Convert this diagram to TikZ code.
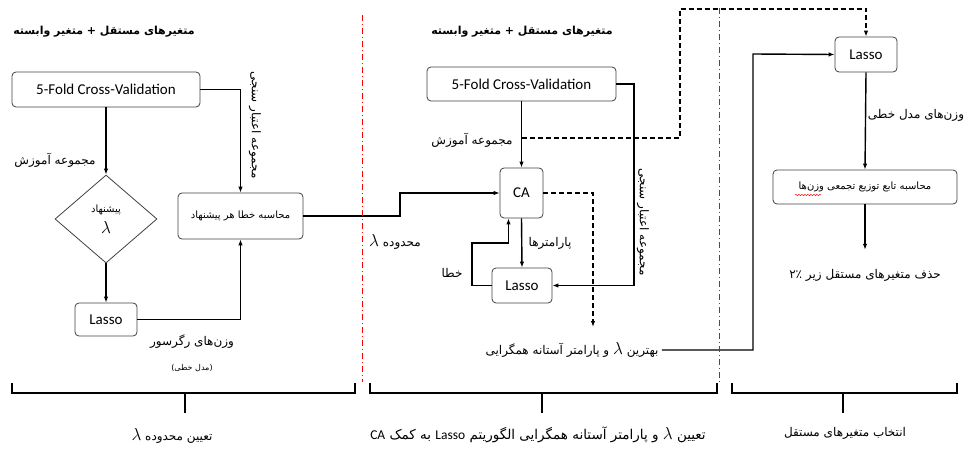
\documentclass[tikz,border=0pt]{standalone}
\usepackage{fontspec}
\setmainfont{Carlito}
\newfontfamily\fafont[Script=Arabic]{DejaVu Sans}
\TeXXeTstate=1
\usetikzlibrary{arrows.meta,shapes.geometric,decorations.pathmorphing}
\newcommand{\fa}[1]{{\fafont\beginR #1\endR}}
\newcommand{\lam}{{\fontsize{18}{18}\selectfont$\lambda$}}
\newcommand{\la}[1]{\beginL{\rmfamily #1}\endL}

\begin{document}
\begin{tikzpicture}[x=1pt, y=-1pt, >={Latex[length=6pt,width=4.5pt]},
                    every node/.style={font=\fontsize{15}{17}\selectfont},
                    box/.style={draw=black!75, rounded corners=4pt, line width=0.8pt},
                    farsi/.style={font=\fontsize{12}{14}\selectfont},
                    farsismall/.style={font=\fontsize{10}{12}\selectfont},
                    farsihead/.style={font=\bfseries\fontsize{11}{14}\selectfont},
                    flow/.style={line width=1.4pt},
                    dashline/.style={line width=1.2pt, dash pattern=on 5pt off 3pt},
                    brace/.style={line width=1.4pt},
                    sep/.style={red, line width=1pt, dash pattern=on 6pt off 3pt on 1pt off 3pt}]
\useasboundingbox (0,0) rectangle (974,449);

% Part 1: range of lambda
\node[farsihead] (headA) at (104,32) {\fa{متغیرهای مستقل + متغیر وابسته}};
\node[box, minimum width=188, minimum height=35] (cvA) at (106,89.5) {5-Fold Cross-Validation};
\node[diamond, draw=black!75, line width=0.8pt, minimum width=102, minimum height=88, inner sep=0pt,
      align=center, farsismall] (sugA) at (106,219) {\fa{پیشنهاد}\\[5pt]\lam};
\node[box, minimum width=62, minimum height=33] (lassoA) at (106,319.5) {Lasso};
\node[box, minimum width=125, minimum height=46, farsismall] (errA) at (240.5,216) {\fa{محاسبه خطا هر پیشنهاد}};
\node[farsi] (trainA) at (55,160) {\fa{مجموعه آموزش}};
\node[farsi, rotate=-90] (valA) at (255,125) {\fa{مجموعه اعتبار سنجی}};
\node[farsi] (wA) at (192,342) {\fa{وزن‌های رگرسور}};
\node[font=\fafont\fontsize{8}{10}\selectfont] (wAsub) at (192,368) {\fa{(مدل خطی)}};

\draw[flow,->] (cvA.south) -- (sugA.north);
\draw[flow,->] (sugA.south) -- (lassoA.north);
\draw[flow,->] (cvA.east) -| (errA.north);
\draw[flow,->] (lassoA.east) -| (errA.south);

% Part 2: lambda and threshold with CA
\node[farsihead] (headB) at (522,32) {\fa{متغیرهای مستقل + متغیر وابسته}};
\node[box, minimum width=189, minimum height=34] (cvB) at (521.5,84) {5-Fold Cross-Validation};
\node[box, minimum width=43, minimum height=50] (ca) at (521.5,193) {CA};
\node[box, minimum width=60, minimum height=35] (lassoB) at (522,285.5) {Lasso};
\node[farsi] (trainB) at (472,140) {\fa{مجموعه آموزش}};
\node[farsi, rotate=-90] (valB) at (643,222) {\fa{مجموعه اعتبار سنجی}};
\node[farsi] (param) at (550,243) {\fa{پارامترها}};
\node[farsi] (err) at (452,273) {\fa{خطا}};
\node[farsi] (range) at (395,242) {\fa{محدوده \lam}};
\node[farsi] (best) at (572,350) {\fa{بهترین \lam{} و پارامتر آستانه همگرایی}};
\coordinate (train) at (521.5,138);
\coordinate (bestIn) at (593,327);

\draw[flow,->] (cvB.south) -- (ca.north);
\draw[flow,->] (ca.south) -- (lassoB.north);
\draw[flow,->] (cvB.east) -| (634,150) |- (lassoB.east);
\draw[flow,->] (lassoB.west) -| (472,243) -| ([xshift=-13pt]ca.south);
\draw[flow,->] (errA.east) -| (400,193) -- (ca.west);
\draw[dashline,->] (ca.east) -| (bestIn);

% Part 3: selecting the variables
\node[box, minimum width=62, minimum height=35] (lassoC) at (866,54.5) {Lasso};
\node[box, minimum width=184, minimum height=34, farsismall] (cdf) at (865,187) {\fa{محاسبه تابع توزیع تجمعی وزن‌ها}};
\node[farsi] (wC) at (916,115) {\fa{وزن‌های مدل خطی}};
\node[farsi, minimum height=50, inner sep=1pt] (drop) at (865,275) {\fa{حذف متغیرهای مستقل زیر ۲٪}};
\draw[red, line width=0.5pt, decorate, decoration={snake, amplitude=0.6pt, segment length=3pt}] (795,195) -- (821,195);

\draw[dashline,->] (train) -| (680,9) -| (lassoC.north);
\draw[flow,->] (lassoC.south) -- (cdf.north);
\draw[flow,->] (cdf.south) -- (drop.north);
\draw[flow,->] (best.east) -| (753,54) -- (lassoC.west);

% separators
\draw[sep] (362,15) -- (362,382);
\draw[sep] (719,8) -- (719,382);

% braces and their captions
\draw[brace] (12,383) |- (355,393) -- (355,383);
\draw[brace] (185,393) -- (185,413);
\node[farsi] (capA) at (172,436) {\fa{تعیین محدوده \lam}};
\draw[brace] (370,383) |- (717,393) -- (717,383);
\draw[brace] (542,393) -- (542,413);
\node[font=\fontsize{13.5}{16}\selectfont] (capB) at (538,435) {\fa{تعیین \lam{} و پارامتر آستانه همگرایی الگوریتم \la{Lasso} به کمک \la{CA}}};
\draw[brace] (732,383) |- (957,393) -- (957,383);
\draw[brace] (843,393) -- (843,413);
\node[farsi] (capC) at (845,433) {\fa{انتخاب متغیرهای مستقل}};
\end{tikzpicture}
\end{document}
